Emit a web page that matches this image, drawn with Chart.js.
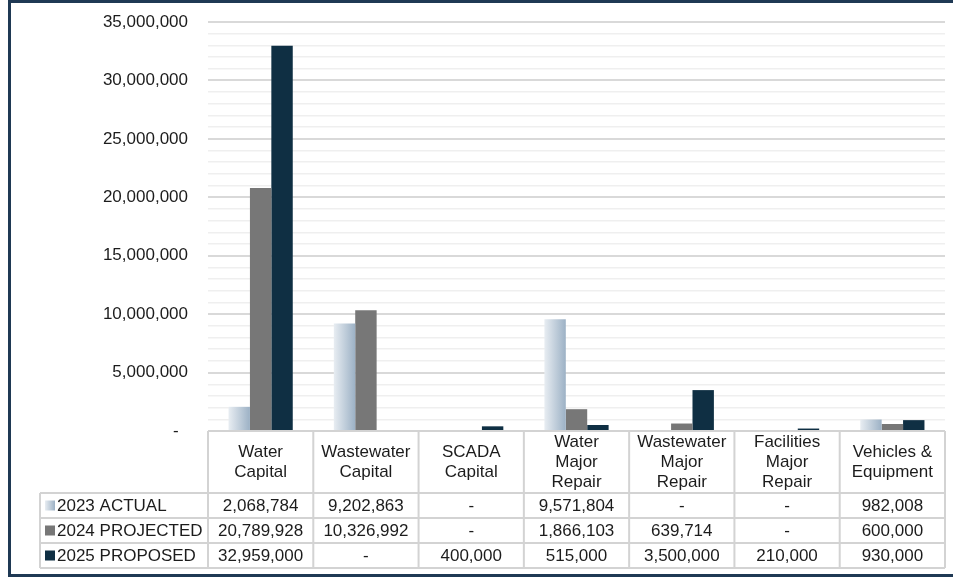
<!DOCTYPE html>
<html>
<head>
<meta charset="utf-8">
<title>Capital Program by Category</title>
<script src="https://cdn.jsdelivr.net/npm/chart.js@4/dist/chart.umd.min.js"></script>
<style>
  html, body { margin: 0; padding: 0; background: #ffffff; }
  #wrap { width: 953px; height: 577px; position: relative; }
</style>
</head>
<body>
<div id="wrap"><canvas id="chart" width="953" height="577"></canvas></div>
<script>
// Categories (multi-line labels for the table header)
const categories = [
  ["Water", "Capital"],
  ["Wastewater", "Capital"],
  ["SCADA", "Capital"],
  ["Water", "Major", "Repair"],
  ["Wastewater", "Major", "Repair"],
  ["Facilities", "Major", "Repair"],
  ["Vehicles &", "Equipment"]
];

// Series
const seriesNames = ["2023 ACTUAL", "2024 PROJECTED", "2025 PROPOSED"];
const actual2023    = [2068784, 9202863, 0, 9571804, 0, 0, 982008];
const projected2024 = [20789928, 10326992, 0, 1866103, 639714, 0, 600000];
const proposed2025  = [32959000, 0, 400000, 515000, 3500000, 210000, 930000];

// Value axis
const yMax = 35000000;
const yMajorStep = 5000000;
const yMinorStep = 1000000;

const FONT = '"Liberation Sans", Arial, Helvetica, sans-serif';
const TEXT = '#1c1c1c';
const GRAY = '#777777';
const NAVY = '#0f2f43';
const LIGHT_A = '#e8edf2';
const LIGHT_B = '#9cb1c5';
const CAT_PCT = 0.61;

function fmt(v) {
  if (!v) return '-';
  return v.toLocaleString('en-US');
}

// Light series fills each bar with a left-to-right fade
function lightFill(ctx) {
  const chart = ctx.chart;
  const xs = chart.scales.x;
  if (!xs || ctx.dataIndex === undefined) return LIGHT_B;
  const cw = (xs.right - xs.left) / categories.length;
  const group = cw * CAT_PCT;
  const left = xs.getPixelForValue(ctx.dataIndex) - group / 2;
  const right = left + group / 3;
  if (!isFinite(left) || !isFinite(right) || right <= left) return LIGHT_B;
  const g = chart.ctx.createLinearGradient(left, 0, right, 0);
  g.addColorStop(0, LIGHT_A);
  g.addColorStop(1, LIGHT_B);
  return g;
}

// Frame around the whole figure
const framePlugin = {
  id: 'frame',
  beforeDraw(chart) {
    const c = chart.ctx;
    c.save();
    c.fillStyle = '#ffffff';
    c.fillRect(0, 0, chart.width, chart.height);
    c.strokeStyle = '#1f3954';
    c.lineWidth = 3;
    c.strokeRect(9.5, 1.5, chart.width + 10, chart.height - 3);
    c.restore();
  }
};

// Data table drawn under the plot, aligned with the category scale
const tablePlugin = {
  id: 'dataTable',
  afterDraw(chart) {
    const c = chart.ctx;
    const xs = chart.scales.x;
    const area = chart.chartArea;
    const n = categories.length;
    const cw = (xs.right - xs.left) / n;
    const top = area.bottom;
    const headH = 62;
    const rowH = 25;
    const legendLeft = 40;
    const rows = [actual2023, projected2024, proposed2025];
    const rowTop = top + headH;
    const bottom = rowTop + rowH * rows.length;

    c.save();
    c.strokeStyle = '#d3d3d3';
    c.lineWidth = 2;
    c.beginPath();
    c.moveTo(area.left, top); c.lineTo(area.right, top);
    for (let r = 0; r <= rows.length; r++) {
      const y = rowTop + r * rowH;
      c.moveTo(legendLeft, y); c.lineTo(area.right, y);
    }
    for (let i = 0; i <= n; i++) {
      const x = xs.left + i * cw;
      c.moveTo(x, top); c.lineTo(x, bottom);
    }
    c.moveTo(legendLeft, rowTop); c.lineTo(legendLeft, bottom);
    c.stroke();

    c.fillStyle = TEXT;
    c.font = '17px ' + FONT;
    c.textAlign = 'center';
    c.textBaseline = 'middle';
    const lh = 20;
    categories.forEach((lines, i) => {
      const cx = xs.getPixelForValue(i);
      const cy = top + headH / 2;
      const y0 = cy - (lines.length - 1) * lh / 2;
      lines.forEach((t, k) => c.fillText(t, cx, y0 + k * lh));
    });
    rows.forEach((vals, r) => {
      const cy = rowTop + r * rowH + rowH / 2 + 0.5;
      vals.forEach((v, i) => c.fillText(fmt(v), xs.getPixelForValue(i), cy));
    });
    const keyFills = [null, GRAY, NAVY];
    rows.forEach((vals, r) => {
      const cy = rowTop + r * rowH + rowH / 2;
      const kx = 45, ks = 10;
      if (r === 0) {
        const g = c.createLinearGradient(kx, 0, kx + ks, 0);
        g.addColorStop(0, LIGHT_A); g.addColorStop(1, LIGHT_B);
        c.fillStyle = g;
      } else {
        c.fillStyle = keyFills[r];
      }
      c.fillRect(kx, cy - ks / 2, ks, ks);
      c.fillStyle = TEXT;
      c.textAlign = 'left';
      c.fillText(seriesNames[r], kx + 12, cy + 0.5);
    });
    c.restore();
  }
};

new Chart(document.getElementById('chart'), {
  type: 'bar',
  data: {
    labels: categories.map(l => l.join(' ')),
    datasets: [
      { label: seriesNames[0], data: actual2023, backgroundColor: lightFill },
      { label: seriesNames[1], data: projected2024, backgroundColor: GRAY },
      { label: seriesNames[2], data: proposed2025, backgroundColor: NAVY }
    ]
  },
  options: {
    responsive: false,
    animation: false,
    devicePixelRatio: 1,
    datasets: { bar: { categoryPercentage: CAT_PCT, barPercentage: 1.0, borderWidth: 0 } },
    layout: { padding: { top: 22, right: 8, bottom: 146, left: 0 } },
    plugins: { legend: { display: false }, tooltip: { enabled: false } },
    scales: {
      x: { display: false, offset: true },
      y: {
        min: 0,
        max: yMax,
        border: { display: false },
        grid: {
          drawTicks: false,
          color: ctx => (ctx.tick && ctx.tick.value % yMajorStep === 0) ? '#d9d9d9' : '#efefef',
          lineWidth: ctx => (ctx.tick && ctx.tick.value % yMajorStep === 0) ? 2 : 1.5
        },
        ticks: {
          stepSize: yMinorStep,
          autoSkip: false,
          padding: 20,
          color: TEXT,
          font: { family: FONT, size: 17 },
          callback: v => v % yMajorStep === 0 ? (v === 0 ? '-  ' : fmt(v)) : ''
        },
        afterFit: s => { s.width = 208; s.paddingTop = 0; s.paddingBottom = 0; }
      }
    }
  },
  plugins: [framePlugin, tablePlugin]
});
</script>
</body>
</html>
